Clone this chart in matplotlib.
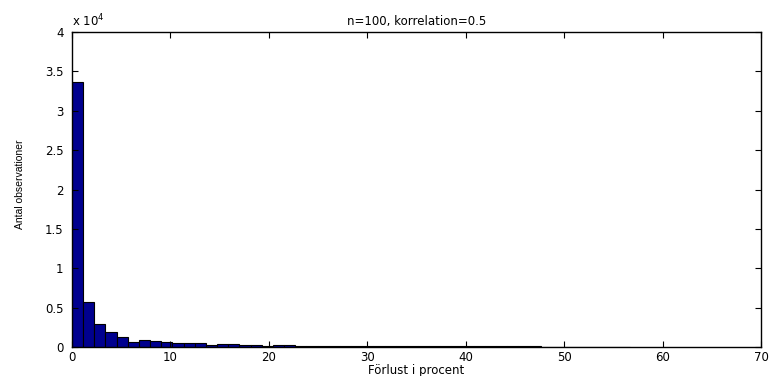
import matplotlib
matplotlib.use("Agg")
import matplotlib.pyplot as plt
import numpy as np

# Histogram data (50 bins between 0 and ~56.7 percent)
bin_start = 0.0
bin_end = 56.7
counts = [33700, 5700, 2950, 1850, 1300, 630, 880, 720, 640, 560,
          480, 480, 220, 380, 370, 250, 250, 120, 250, 200,
          110, 100, 100, 95, 90, 90, 85, 85, 80, 80,
          80, 75, 75, 75, 70, 70, 70, 70, 65, 65,
          65, 65, 60, 60, 60, 60, 60, 60, 60, 60]
x_ticks = [0, 10, 20, 30, 40, 50, 60, 70]
y_ticks = [0, 5000, 10000, 15000, 20000, 25000, 30000, 35000, 40000]
y_ticklabels = ["0", "0.5", "1", "1.5", "2", "2.5", "3", "3.5", "4"]

plt.rcParams['font.family'] = ['DejaVu Sans']

fig = plt.figure(figsize=(7.73, 3.76), dpi=100)
ax = fig.add_axes([0.0931, 0.0771, 0.8914, 0.8378])

edges = np.linspace(bin_start, bin_end, len(counts) + 1)
ax.bar(edges[:-1], counts, width=np.diff(edges), align='edge',
       color=(0, 0, 0.5625), edgecolor='black', linewidth=0.8)

ax.set_xlim(0, 70)
ax.set_ylim(0, 40000)
ax.set_xticks(x_ticks)
ax.set_yticks(y_ticks)
ax.set_yticklabels(y_ticklabels)
ax.tick_params(direction='in', top=True, right=True, labelsize=8.5, length=4, width=0.8)
ax.tick_params(axis='x', pad=3)
ax.tick_params(axis='y', pad=6)
for s in ax.spines.values():
    s.set_linewidth(1.0)

ax.text(0.0, 1.008, r"x 10$^4$", transform=ax.transAxes, fontsize=8.5, va='bottom', ha='left')
ax.set_title("n=100, korrelation=0.5", fontsize=8.5, pad=5)
ax.set_xlabel("Förlust i procent", fontsize=8.5, labelpad=0)
ax.set_ylabel("Antal observationer", fontsize=7.5, family='Liberation Sans')
ax.yaxis.set_label_coords(-0.068, 0.517)

fig.savefig("out.png", dpi=100)
